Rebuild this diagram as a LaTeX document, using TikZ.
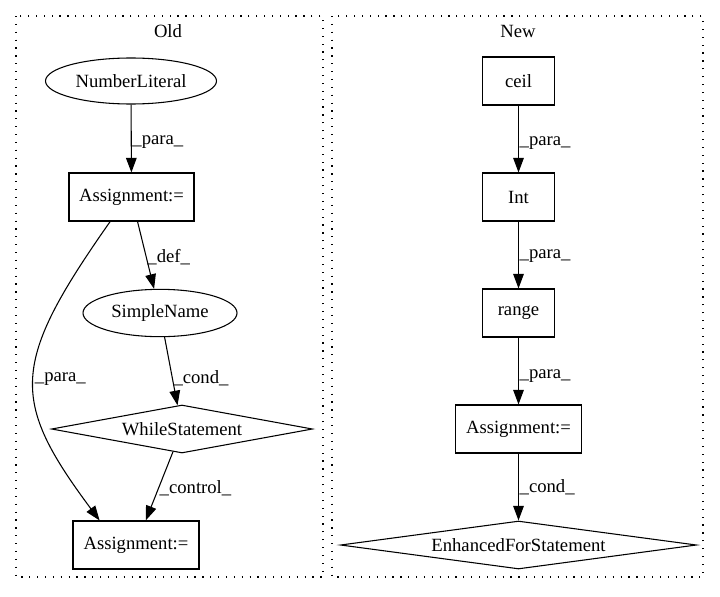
\documentclass[tikz,border=0pt]{standalone}
\usepackage{fontspec}
\setmainfont{Liberation Serif}
\usetikzlibrary{arrows.meta,shapes.geometric}
\tikzset{
  box/.style={draw,rectangle,minimum height=36pt,inner sep=0pt,line width=0.8pt},
  oval/.style={draw,ellipse,inner sep=0pt,line width=0.8pt},
  decision/.style={draw,diamond,inner sep=0pt,line width=0.8pt},
  flow/.style={-{Triangle[length=11pt,width=8pt]},line width=0.8pt},
  lbl/.style={anchor=west,inner sep=0.5pt},
  cluster/.style={draw,dash pattern=on 0.9pt off 5pt,line width=0.9pt}
}
\begin{document}
\begin{tikzpicture}[x=0.75pt,y=-0.75pt,font=\fontsize{14}{16}\selectfont]
  \useasboundingbox (0,0) rectangle (720,596);
  % clusters
  \draw[cluster] (16,16) rectangle (323,577);
  \draw[cluster] (332,16) rectangle (703,577);
  \node (old) at (168,31) {Old};
  \node (new) at (518,31) {New};
  % old
  \node[oval,minimum width=128.25pt,minimum height=34.5pt] (numlit) at (131,81) {NumberLiteral};
  \node[box,minimum width=93.75pt] (assignA) at (131.5,197) {Assignment:=};
  \node[oval,minimum width=115.5pt,minimum height=35.5pt] (simple) at (160,313) {SimpleName};
  \node[decision,aspect=5.4,minimum width=195.75pt,minimum height=36pt] (while) at (182,429) {WhileStatement};
  \node[box,minimum width=94.5pt] (assignB) at (136,545) {Assignment:=};
  \draw[flow] (numlit) -- (assignA) node[lbl,pos=0.56] {\_para\_};
  \draw[flow] (assignA) -- (simple) node[lbl,pos=0.53] {\_def\_};
  \draw[flow] (simple) -- (while) node[lbl,pos=0.6] {\_cond\_};
  \draw[flow] (while) -- (assignB) node[lbl,pos=0.53] {\_control\_};
  \draw[flow] (assignA.229.5) .. controls (10,364) and (10,400) .. (assignB.146) node[lbl,pos=0.5] {\_para\_};
  % new
  \node[box,minimum width=54pt] (ceil) at (518.5,81) {ceil};
  \node[box,minimum width=54pt] (int) at (518.5,197) {Int};
  \node[box,minimum width=54pt] (range) at (518.5,313) {range};
  \node[box,minimum width=94.5pt] (assignC) at (518.5,429) {Assignment:=};
  \node[decision,aspect=7.4,minimum width=267pt,minimum height=36pt] (efor) at (518.5,545) {EnhancedForStatement};
  \draw[flow] (ceil) -- (int) node[lbl,pos=0.56] {\_para\_};
  \draw[flow] (int) -- (range) node[lbl,pos=0.51] {\_para\_};
  \draw[flow] (range) -- (assignC) node[lbl,pos=0.57] {\_para\_};
  \draw[flow] (assignC) -- (efor) node[lbl,pos=0.5] {\_cond\_};
\end{tikzpicture}
\end{document}
